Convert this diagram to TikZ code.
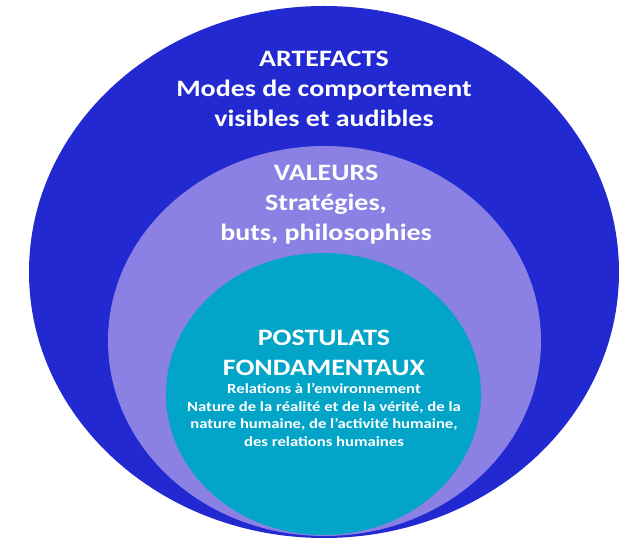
\documentclass[tikz,border=0pt]{standalone}
\usepackage{fontspec}
\setmainfont{Carlito}[FakeStretch=1.19]
\usetikzlibrary{positioning}
\definecolor{artblue}{RGB}{34,41,209}
\definecolor{valpurple}{RGB}{139,128,228}
\definecolor{postteal}{RGB}{2,165,200}
\tikzset{
	bigtext/.style={text=white, align=center, inner sep=0pt, font=\bfseries\fontsize{23.5}{30}\selectfont},
	smalltext/.style={text=white, align=center, inner sep=0pt, font=\bfseries\fontsize{14}{17.8}\selectfont}
}

\begin{document}
\begin{tikzpicture}[x=1pt, y=1pt]
			%%%%% START %%%%%
			
			\useasboundingbox (0, 0) rectangle (624, 538);
			
			\fill[artblue] (324, 266) ellipse (295 and 266);
			\fill[valpurple] (324.5, 197) ellipse (216.5 and 195);
			\fill[postteal] (323.5, 144) ellipse (157.5 and 141);
			
			\node[bigtext] (artefacts) at (324, 449) {ARTEFACTS\\Modes de comportement\\visibles et audibles};
			
			\node[bigtext] (valeurs) at (326, 333.5) {VALEURS\\Stratégies,\\buts, philosophies};
			
			\node[bigtext] (postulats) at (324, 185) {POSTULATS\\FONDAMENTAUX};
			\node[smalltext, below=7pt of postulats] (relations) {Relations à l'environnement\\Nature de la réalité et de la vérité, de la\\nature humaine, de l’activité humaine,\\des relations humaines};
			
			%%%%% END %%%%%
\end{tikzpicture}
\end{document}
